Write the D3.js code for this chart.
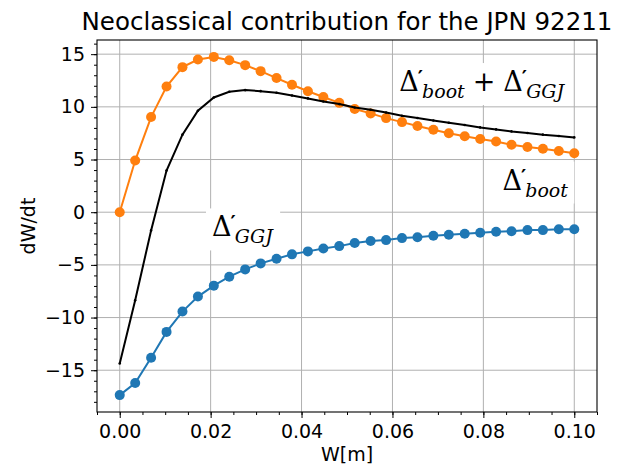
<!DOCTYPE html>
<html>
<head>
<meta charset="utf-8">
<script src="https://cdn.jsdelivr.net/npm/d3@7"></script>
<style>
body { margin: 0; background: #fff; }
svg text { font-family: "DejaVu Sans", sans-serif; fill: #000; }
</style>
</head>
<body>
<script>
"use strict";
// island width W [m] (30 samples)
const widths = [0.0000, 0.0034, 0.0069, 0.0103, 0.0138, 0.0172, 0.0207, 0.0241, 0.0276, 0.0310,
	0.0345, 0.0379, 0.0414, 0.0448, 0.0483, 0.0517, 0.0552, 0.0586, 0.0621, 0.0655,
	0.0690, 0.0724, 0.0759, 0.0793, 0.0828, 0.0862, 0.0897, 0.0931, 0.0966, 0.1000];
const boot = [0.0, 4.9, 9.03, 11.93, 13.77, 14.49, 14.74, 14.43, 13.96, 13.39,
	12.73, 12.1, 11.48, 10.93, 10.38, 9.8, 9.38, 8.93, 8.55, 8.18,
	7.83, 7.5, 7.21, 6.95, 6.71, 6.4, 6.19, 6.02, 5.81, 5.6];
const ggj = [-17.36, -16.22, -13.82, -11.36, -9.43, -8.01, -6.97, -6.12, -5.43, -4.86,
	-4.42, -4.0, -3.72, -3.44, -3.22, -2.93, -2.74, -2.65, -2.46, -2.37,
	-2.24, -2.14, -2.05, -1.95, -1.86, -1.8, -1.7, -1.7, -1.61, -1.61];
const total = [-14.36, -8.36, -1.73, 3.95, 7.36, 9.63, 10.89, 11.43, 11.59, 11.49,
	11.34, 11.08, 10.8, 10.51, 10.26, 9.94, 9.73, 9.47, 9.16, 8.94,
	8.71, 8.49, 8.28, 8.05, 7.86, 7.67, 7.52, 7.36, 7.23, 7.1];
const xTicks = [0, 0.02, 0.04, 0.06, 0.08, 0.1];
const yTicks = [-15, -10, -5, 0, 5, 10, 15];
const title = "Neoclassical contribution for the JPN 92211";
// text labels in data coordinates: [x, y, parts]
const labels = [
	[0.0615, 11.5, [["Δ", "boot"], "+", ["Δ", "GGJ"]]],
	[0.0842, 2.15, [["Δ", "boot"]]],
	[0.0203, -2.3, [["Δ", "GGJ"]]],
];

const size = {width: 634, height: 468};
const box = {left: 97, top: 40, right: 597, bottom: 412};

const svg = d3.select("body")
	.append("svg")
	.attr("width", size.width)
	.attr("height", size.height);

function pad(ext) {
	const r = ext[1] - ext[0];
	return [ext[0] - 0.05 * r, ext[1] + 0.05 * r];
}
const allY = boot.concat(ggj, total);
const x = d3.scaleLinear().domain(pad(d3.extent(widths))).range([box.left, box.right]);
const y = d3.scaleLinear().domain(pad(d3.extent(allY))).range([box.bottom, box.top]);

// grid
const grid = svg.append("g").attr("stroke", "#b0b0b0").attr("stroke-width", 1);
grid.selectAll(".gx").data(xTicks).enter().append("line")
	.attr("x1", d => x(d)).attr("x2", d => x(d))
	.attr("y1", box.top).attr("y2", box.bottom);
grid.selectAll(".gy").data(yTicks).enter().append("line")
	.attr("x1", box.left).attr("x2", box.right)
	.attr("y1", d => y(d)).attr("y2", d => y(d));

// minor ticks
const xMinor = d3.range(-0.005, 0.1051, 0.005).filter(v => v >= x.domain()[0] && v <= x.domain()[1]);
const yMinor = d3.range(-18, 17, 1).filter(v => v >= y.domain()[0] && v <= y.domain()[1]);
svg.append("g")
	.attr("transform", "translate(0," + box.bottom + ")")
	.call(d3.axisBottom(x).tickValues(xMinor).tickSize(3).tickFormat(""))
	.call(g => g.select(".domain").remove());
svg.append("g")
	.attr("transform", "translate(" + box.left + ",0)")
	.call(d3.axisLeft(y).tickValues(yMinor).tickSize(3).tickFormat(""))
	.call(g => g.select(".domain").remove());

// major axes
const xAxis = svg.append("g")
	.attr("transform", "translate(0," + box.bottom + ")")
	.call(d3.axisBottom(x).tickValues(xTicks).tickSize(6).tickPadding(7).tickFormat(d3.format(".2f")));
const yAxis = svg.append("g")
	.attr("transform", "translate(" + box.left + ",0)")
	.call(d3.axisLeft(y).tickValues(yTicks).tickSize(6).tickPadding(6).tickFormat(d3.format("d")));
[xAxis, yAxis].forEach(a => {
	a.select(".domain").remove();
	a.selectAll("text").style("font-size", "19px").style("font-family", "DejaVu Sans");
});

// frame
svg.append("rect")
	.attr("x", box.left).attr("y", box.top)
	.attr("width", box.right - box.left).attr("height", box.bottom - box.top)
	.attr("fill", "none").attr("stroke", "#000").attr("stroke-width", 1.1);

// series
const line = d3.line().x((d, i) => x(widths[i])).y(d => y(d));
function series(values, color, lw, r) {
	svg.append("path")
		.datum(values)
		.attr("d", line)
		.attr("fill", "none")
		.attr("stroke", color)
		.attr("stroke-width", lw);
	svg.append("g").selectAll("circle")
		.data(values)
		.enter()
		.append("circle")
		.attr("cx", (d, i) => x(widths[i]))
		.attr("cy", d => y(d))
		.attr("r", r)
		.attr("fill", color);
}
series(boot, "#ff7f0e", 2, 5);
series(ggj, "#1f77b4", 2, 5);
series(total, "#000000", 2, 1.3);

// math labels (one text element each) with white boxes
function mathLabel(px, py, parts) {
	const g = svg.append("g");
	const bg = g.append("rect").attr("fill", "#fff");
	const t = g.append("text").attr("x", px).attr("y", py)
		.style("font-family", "DejaVu Serif");
	let gap = 0, lift = 0;
	parts.forEach(p => {
		if (typeof p === "string") {
			t.append("tspan").attr("dx", 8).attr("dy", lift).style("font-size", "27px").text(p);
			gap = 8; lift = 0;
			return;
		}
		t.append("tspan").attr("dx", gap).attr("dy", lift).style("font-size", "27px").text(p[0]);
		t.append("tspan").attr("dx", -1).attr("dy", -6)
			.style("font-size", "20px").style("font-weight", "bold").text("′");
		t.append("tspan").attr("dx", -1).attr("dy", 13)
			.style("font-size", "19px").style("font-style", "italic").text(p[1]);
		gap = 0; lift = -7;
	});
	const b = g.node().getBBox();
	bg.attr("x", b.x - 6).attr("y", b.y - 3).attr("width", b.width + 12).attr("height", b.height + 6);
}
labels.forEach(l => mathLabel(x(l[0]), y(l[1]), l[2]));

// titles
svg.append("text")
	.attr("x", (box.left + box.right) / 2)
	.attr("y", 30)
	.attr("text-anchor", "middle")
	.style("font-size", "24.5px")
	.text(title);
svg.append("text")
	.attr("x", (box.left + box.right) / 2)
	.attr("y", 461)
	.attr("text-anchor", "middle")
	.style("font-size", "19px")
	.text("W[m]");
svg.append("text")
	.attr("transform", "translate(35," + (box.top + box.bottom) / 2 + ") rotate(-90)")
	.attr("text-anchor", "middle")
	.style("font-size", "19px")
	.text("dW/dt");
</script>
</body>
</html>
